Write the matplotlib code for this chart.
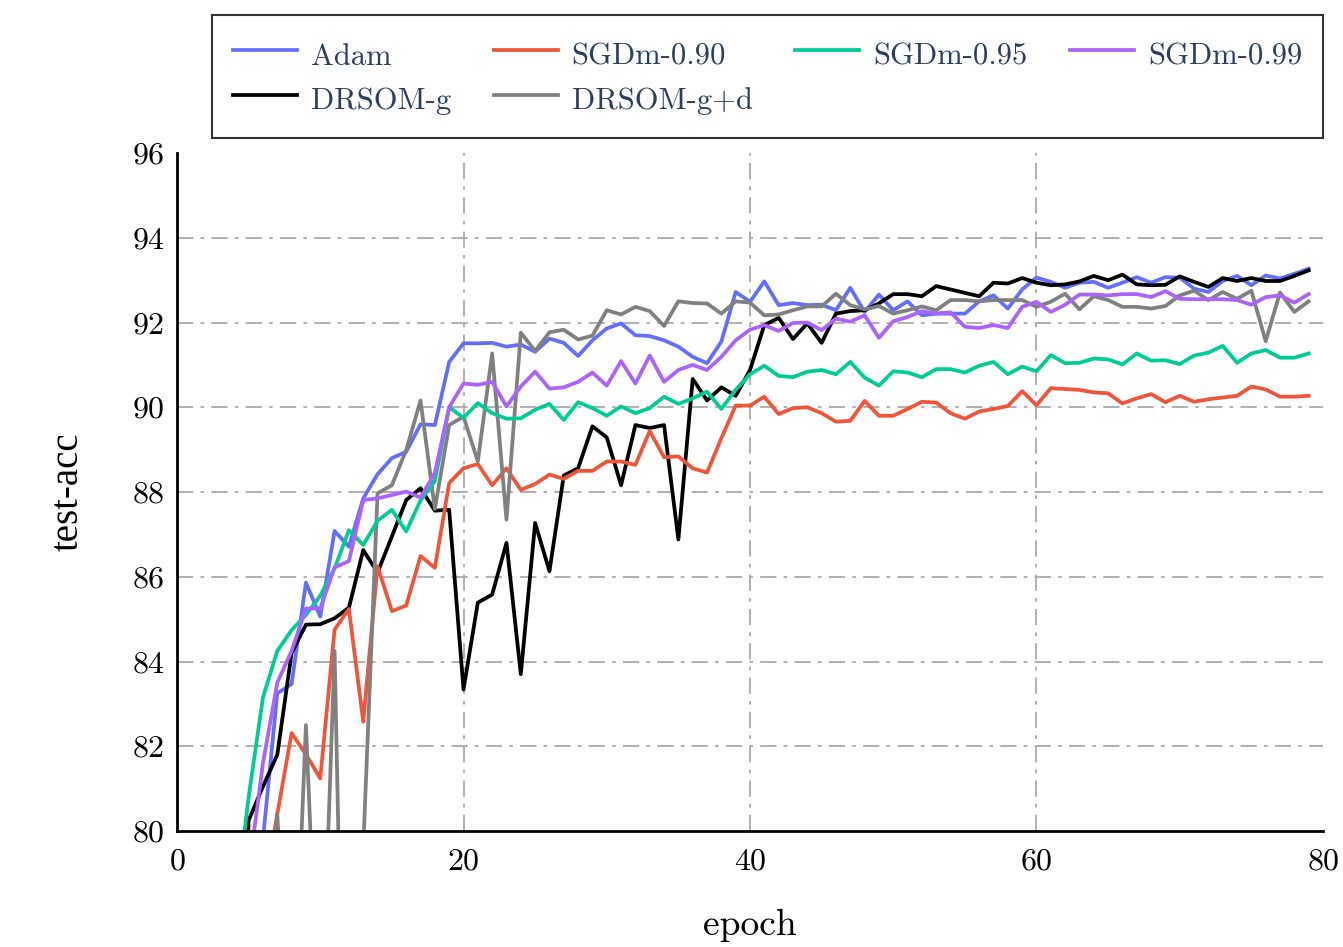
import matplotlib
matplotlib.use("Agg")
import matplotlib.pyplot as plt

plt.rcParams['font.family'] = 'cmr10'
plt.rcParams['axes.formatter.use_mathtext'] = True

epochs = list(range(80))

adam = [40.5, 60.2, 68.4, 72.9, 75.6, 77.9, 79.8, 83.25, 83.47, 85.86,
        85.06, 87.08, 86.71, 87.85, 88.42, 88.8, 88.95, 89.6, 89.58, 91.07,
        91.51, 91.51, 91.52, 91.43, 91.48, 91.31, 91.62, 91.52, 91.21, 91.58,
        91.86, 91.98, 91.7, 91.68, 91.58, 91.43, 91.19, 91.04, 91.55, 92.72,
        92.49, 92.97, 92.41, 92.46, 92.41, 92.42, 92.29, 92.82, 92.25, 92.66,
        92.29, 92.5, 92.17, 92.21, 92.21, 92.21, 92.5, 92.64, 92.33, 92.78,
        93.06, 92.96, 92.82, 92.94, 92.96, 92.82, 92.94, 93.07, 92.94, 93.07,
        93.06, 92.8, 92.72, 92.98, 93.1, 92.88, 93.11, 93.04, 93.15, 93.27]

sgdm_090 = [35.0, 55.0, 64.0, 70.0, 74.0, 76.5, 78.4, 80.4, 82.31, 81.81,
            81.24, 84.75, 85.24, 82.58, 86.25, 85.19, 85.32, 86.49, 86.21, 88.21,
            88.56, 88.66, 88.16, 88.56, 88.05, 88.19, 88.41, 88.31, 88.5, 88.5,
            88.72, 88.72, 88.64, 89.44, 88.82, 88.84, 88.56, 88.46, 89.27, 90.04,
            90.04, 90.25, 89.84, 89.98, 90.0, 89.86, 89.66, 89.68, 90.15, 89.8,
            89.8, 89.96, 90.13, 90.11, 89.86, 89.73, 89.9, 89.96, 90.03, 90.38,
            90.05, 90.45, 90.43, 90.41, 90.35, 90.33, 90.09, 90.21, 90.31, 90.12,
            90.27, 90.13, 90.19, 90.23, 90.27, 90.49, 90.42, 90.25, 90.25, 90.27]

sgdm_095 = [50.0, 66.0, 72.0, 75.5, 78.0, 80.8, 83.15, 84.25, 84.74, 85.1,
            85.55, 86.2, 87.1, 86.75, 87.32, 87.58, 87.07, 87.8, 88.26, 90.0,
            89.75, 90.1, 89.86, 89.73, 89.74, 89.94, 90.08, 89.7, 90.12, 89.98,
            89.8, 90.02, 89.86, 89.98, 90.25, 90.08, 90.21, 90.37, 89.96, 90.41,
            90.78, 90.98, 90.74, 90.71, 90.84, 90.88, 90.78, 91.07, 90.7, 90.51,
            90.85, 90.82, 90.71, 90.9, 90.9, 90.82, 90.98, 91.07, 90.78, 90.96,
            90.85, 91.23, 91.04, 91.05, 91.15, 91.13, 91.01, 91.27, 91.1, 91.11,
            91.02, 91.22, 91.29, 91.45, 91.05, 91.27, 91.35, 91.17, 91.17, 91.27]

sgdm_099 = [42.0, 61.0, 69.0, 73.5, 76.8, 79.0, 81.6, 83.5, 84.25, 85.25,
            85.25, 86.22, 86.37, 87.81, 87.85, 87.93, 88.01, 87.87, 88.45, 90.0,
            90.56, 90.53, 90.6, 90.02, 90.49, 90.84, 90.44, 90.47, 90.6, 90.82,
            90.51, 91.09, 90.56, 91.22, 90.6, 90.88, 91.0, 90.88, 91.19, 91.58,
            91.83, 91.94, 91.8, 91.99, 92.0, 91.82, 92.09, 92.02, 92.17, 91.64,
            92.03, 92.13, 92.27, 92.21, 92.24, 91.9, 91.87, 91.94, 91.87, 92.37,
            92.49, 92.25, 92.42, 92.66, 92.66, 92.64, 92.67, 92.67, 92.6, 92.74,
            92.56, 92.55, 92.55, 92.55, 92.53, 92.42, 92.6, 92.64, 92.47, 92.67]

drsom_g = [30.0, 52.0, 62.0, 68.0, 72.0, 80.25, 81.05, 81.8, 84.2, 84.87,
           84.88, 85.02, 85.27, 86.63, 86.1, 86.95, 87.81, 88.09, 87.56, 87.58,
           83.34, 85.39, 85.58, 86.8, 83.7, 87.27, 86.13, 88.39, 88.56, 89.55,
           89.29, 88.16, 89.58, 89.51, 89.58, 86.88, 90.67, 90.16, 90.47, 90.27,
           90.88, 91.94, 92.11, 91.61, 91.98, 91.52, 92.21, 92.27, 92.29, 92.45,
           92.67, 92.67, 92.62, 92.86, 92.78, 92.7, 92.62, 92.94, 92.92, 93.05,
           92.94, 92.88, 92.9, 92.97, 93.1, 93.0, 93.13, 92.9, 92.88, 92.89,
           93.09, 92.96, 92.84, 93.05, 92.98, 93.05, 92.98, 92.98, 93.1, 93.23]

drsom_gd = [20.0, 40.0, 50.0, 58.0, 63.0, 66.0, 70.0, 80.4, 74.2, 82.5,
            74.5, 84.25, 68.0, 79.6, 87.97, 88.16, 88.99, 90.16, 87.6, 89.58,
            89.78, 88.72, 91.27, 87.35, 91.76, 91.33, 91.77, 91.83, 91.6, 91.69,
            92.29, 92.19, 92.37, 92.27, 91.92, 92.5, 92.46, 92.45, 92.21, 92.5,
            92.47, 92.17, 92.19, 92.29, 92.38, 92.38, 92.68, 92.41, 92.31, 92.39,
            92.21, 92.29, 92.38, 92.29, 92.53, 92.53, 92.5, 92.53, 92.53, 92.53,
            92.37, 92.49, 92.68, 92.31, 92.62, 92.53, 92.37, 92.37, 92.33, 92.39,
            92.64, 92.75, 92.53, 92.72, 92.56, 92.75, 91.56, 92.71, 92.25, 92.5]

# legend order: matplotlib fills columns first
series = [
    ("Adam", adam, "#636efa"),
    ("DRSOM-g", drsom_g, "black"),
    ("SGDm-0.90", sgdm_090, "#ef553b"),
    ("DRSOM-g+d", drsom_gd, "#808080"),
    ("SGDm-0.95", sgdm_095, "#00cc96"),
    ("SGDm-0.99", sgdm_099, "#ab63fa"),
]

fig = plt.figure(figsize=(13.43, 9.47), dpi=100)
ax = fig.add_axes([0.1318, 0.1225, 0.8533, 0.7159])

for name, vals, col in series:
    ax.plot(epochs, vals, color=col, linewidth=2.7, label=name)

ax.set_xlim(0, 80)
ax.set_ylim(80, 96)
ax.set_xticks([0, 20, 40, 60, 80])
ax.set_yticks([80, 82, 84, 86, 88, 90, 92, 94, 96])
# interior grid lines only (none on the frame edges)
ax.xaxis.remove_overlapping_locs = False
ax.yaxis.remove_overlapping_locs = False
ax.set_xticks([20, 40, 60], minor=True)
ax.set_yticks([82, 84, 86, 88, 90, 92, 94], minor=True)
ax.tick_params(which="both", length=0)
ax.tick_params(labelsize=23, colors="black")
ax.tick_params(axis="y", pad=9)
ax.tick_params(axis="x", pad=12)

ax.grid(False, which="major")
ax.grid(True, which="minor", linestyle=(0, (9, 4, 2, 4)), color="#aaaaaa", linewidth=1.3)
ax.set_axisbelow(True)

for s in ("top", "right"):
    ax.spines[s].set_visible(False)
for s in ("left", "bottom"):
    ax.spines[s].set_linewidth(2)
    ax.spines[s].set_color("black")

ax.set_xlabel("epoch", fontsize=27, labelpad=24)
ax.set_ylabel("test-acc", fontsize=28, family="Liberation Serif", labelpad=32)

leg = fig.legend(loc="upper left", bbox_to_anchor=(0.158, 0.855, 0.827, 0.129),
                 mode="expand", ncol=4, fontsize=22, frameon=True, fancybox=False,
                 handlelength=2.1, handletextpad=0.45, borderaxespad=0,
                 handleheight=1.5, labelspacing=0.23, borderpad=0.68)
leg.get_frame().set_edgecolor("black")
leg.get_frame().set_linewidth(1.5)
for txt in leg.get_texts():
    txt.set_color("#2a3f5f")

fig.savefig("out.png", dpi=100)
